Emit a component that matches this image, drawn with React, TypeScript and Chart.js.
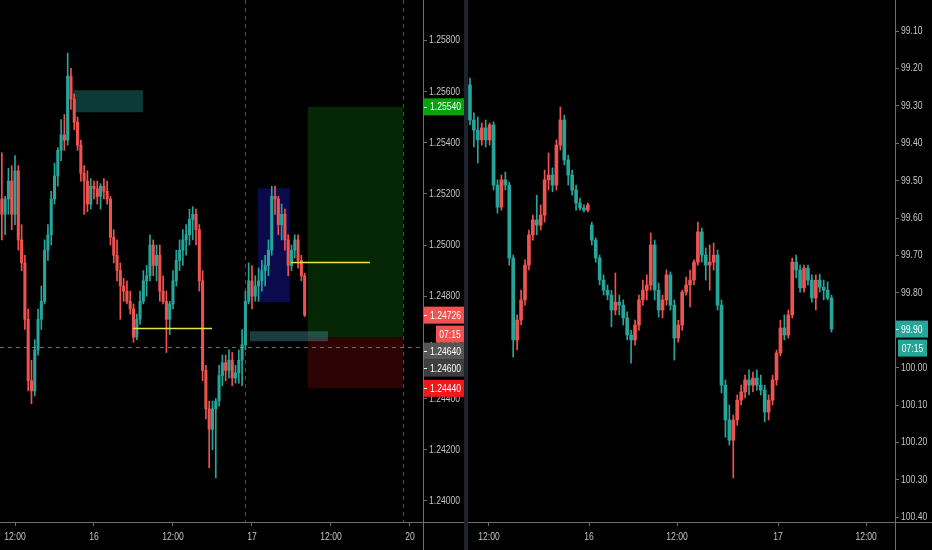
import React, { useEffect, useRef } from 'react';
import { Chart, registerables } from 'chart.js';

Chart.register(...registerables);

const FONT_FAMILY = '"Liberation Sans", Arial, sans-serif';
const FONT = `11px ${FONT_FAMILY}`;
const SQUEEZE = 0.78; // horizontal squeeze to imitate the narrow axis font
const UP = '#26a69a';
const DOWN = '#ef5350';
const AXIS = '#6e6e6e';
const TEXT = '#c4c4c4';

// ---------------- Left pane (30-minute candles, price) ----------------
const leftFirstOpen = 1.2518;
const leftClose = [
  1.2512, 1.2518, 1.2525, 1.2512, 1.2529, 1.2502, 1.2493, 1.2471, 1.2447, 1.2443,
  1.2459, 1.2471, 1.2478, 1.2498, 1.2504, 1.2518, 1.2527, 1.2537, 1.2543, 1.2541,
  1.2566, 1.2557, 1.2548, 1.2539, 1.2528, 1.2525, 1.2516, 1.2523, 1.2522, 1.2519,
  1.2523, 1.2521, 1.2518, 1.2503, 1.2496, 1.2490, 1.2484, 1.2482, 1.2478, 1.2475,
  1.2464, 1.2471, 1.2478, 1.2486, 1.2488, 1.2500, 1.2492, 1.2496, 1.2482, 1.2478,
  1.2471, 1.2477, 1.2486, 1.2494, 1.2498, 1.2502, 1.2504, 1.2510, 1.2512, 1.2506,
  1.2486, 1.2451, 1.2436, 1.2428, 1.2436, 1.2439, 1.2449, 1.2454, 1.2451, 1.2455,
  1.2448, 1.2450, 1.2455, 1.2461, 1.2478, 1.2486, 1.2480, 1.2484, 1.2486, 1.2490,
  1.2492, 1.2498, 1.2519, 1.2518, 1.2508, 1.2512, 1.2502, 1.2492, 1.2498, 1.2502,
  1.2494, 1.2488, 1.24726,
];
const leftHigh = [
  1.2536, 1.2519, 1.2530, 1.2531, 1.2535, 1.2531, 1.2508, 1.2496, 1.2475, 1.2455,
  1.2463, 1.2475, 1.2484, 1.2502, 1.2508, 1.2521, 1.2532, 1.2538, 1.2549, 1.2551,
  1.2575, 1.2569, 1.2559, 1.2550, 1.2541, 1.2531, 1.2529, 1.2526, 1.2525, 1.2525,
  1.2524, 1.2526, 1.2525, 1.2519, 1.2506, 1.2502, 1.2493, 1.2487, 1.2486, 1.2482,
  1.2477, 1.2473, 1.2482, 1.2490, 1.2492, 1.2504, 1.2502, 1.2500, 1.2500, 1.2488,
  1.2482, 1.2478, 1.2490, 1.2498, 1.2502, 1.2506, 1.2508, 1.2514, 1.2515, 1.2514,
  1.2508, 1.2490, 1.2453, 1.2439, 1.2439, 1.2440, 1.2453, 1.2457, 1.2457, 1.2459,
  1.2458, 1.2453, 1.2459, 1.2467, 1.2482, 1.2493, 1.2492, 1.2488, 1.2491, 1.2494,
  1.2496, 1.2502, 1.2523, 1.2523, 1.2519, 1.2516, 1.2514, 1.2504, 1.2500, 1.2504,
  1.2504, 1.2496, 1.2489,
];
const leftLow = [
  1.2502, 1.2504, 1.2512, 1.2506, 1.2508, 1.2498, 1.2490, 1.2467, 1.2443, 1.2438,
  1.2441, 1.2457, 1.2467, 1.2477, 1.2494, 1.2500, 1.2516, 1.2523, 1.2533, 1.2537,
  1.2539, 1.2553, 1.2545, 1.2537, 1.2525, 1.2512, 1.2513, 1.2514, 1.2518, 1.2516,
  1.2514, 1.2518, 1.2516, 1.2500, 1.2493, 1.2486, 1.2471, 1.2478, 1.2477, 1.2473,
  1.2462, 1.2463, 1.2469, 1.2477, 1.2480, 1.2486, 1.2488, 1.2486, 1.2478, 1.2477,
  1.2458, 1.2465, 1.2475, 1.2484, 1.2490, 1.2492, 1.2496, 1.2500, 1.2502, 1.2500,
  1.2482, 1.2447, 1.2432, 1.2413, 1.2420, 1.2409, 1.2437, 1.2445, 1.2447, 1.2448,
  1.2445, 1.2446, 1.2446, 1.2445, 1.2459, 1.2477, 1.2475, 1.2478, 1.2478, 1.2482,
  1.2484, 1.2488, 1.2496, 1.2512, 1.2504, 1.2502, 1.2498, 1.2488, 1.2490, 1.2495,
  1.2491, 1.2486, 1.2472,
];
// candle times in hours counted from the 15th 00:00 (weekend compressed)
const leftStartHour = 10;
const leftStepHours = 0.5;
const leftTimeTicks = [12, 24, 36, 48, 60, 72];
const leftTimeLabels = ['12:00', '16', '12:00', '17', '12:00', '20'];
const leftPriceTicks = [1.24, 1.242, 1.244, 1.246, 1.248, 1.25, 1.252, 1.254, 1.256, 1.258];

// drawings on the left pane (time in hours, price)
const longTarget = 1.2554;
const longEntry = 1.2464;
const longStop = 1.2444;
const crosshairPrice = 1.246;

// ---------------- Right pane (30-minute candles, inverted index) ----------------
const rightFirstOpen = 99.244;
const rightGapIndex = 31;
const rightGapOpen = 99.619;
const rightClose = [
  99.338, 99.365, 99.391, 99.359, 99.391, 99.351, 99.512, 99.571, 99.498, 99.512,
  99.707, 99.926, 99.873, 99.819, 99.726, 99.645, 99.605, 99.619, 99.592, 99.498,
  99.485, 99.512, 99.405, 99.338, 99.445, 99.485, 99.525, 99.560, 99.573, 99.579,
  99.565, 99.659, 99.707, 99.766, 99.793, 99.806, 99.846, 99.825, 99.833, 99.867,
  99.913, 99.926, 99.886, 99.819, 99.793, 99.779, 99.672, 99.793, 99.846, 99.819,
  99.752, 99.833, 99.921, 99.886, 99.798, 99.779, 99.766, 99.718, 99.637, 99.699,
  99.726, 99.718, 99.699, 99.833, 100.047, 100.140, 100.194, 100.140, 100.087, 100.065,
  100.033, 100.047, 100.028, 100.047, 100.060, 100.119, 100.087, 100.033, 99.961, 99.894,
  99.913, 99.859, 99.718, 99.739, 99.787, 99.734, 99.766, 99.814, 99.766, 99.785,
  99.793, 99.814, 99.897,
];
const rightHigh = [
  99.351, 99.410, 99.453, 99.405, 99.410, 99.405, 99.525, 99.587, 99.579, 99.525,
  99.726, 99.972, 99.953, 99.886, 99.833, 99.739, 99.659, 99.645, 99.632, 99.611,
  99.525, 99.530, 99.525, 99.418, 99.458, 99.512, 99.539, 99.579, 99.579, 99.584,
  99.584, 99.672, 99.718, 99.779, 99.806, 99.819, 99.891, 99.859, 99.859, 99.886,
  99.926, 99.988, 99.940, 99.900, 99.833, 99.819, 99.793, 99.819, 99.865, 99.867,
  99.833, 99.846, 99.980, 99.932, 99.900, 99.806, 99.838, 99.779, 99.726, 99.718,
  99.766, 99.793, 99.739, 99.846, 100.068, 100.186, 100.207, 100.295, 100.154, 100.100,
  100.081, 100.073, 100.065, 100.060, 100.073, 100.145, 100.140, 100.100, 100.047, 99.969,
  99.926, 99.921, 99.867, 99.760, 99.798, 99.798, 99.779, 99.825, 99.846, 99.798,
  99.819, 99.819, 99.905,
];
const rightLow = [
  99.226, 99.319, 99.330, 99.346, 99.338, 99.346, 99.343, 99.498, 99.485, 99.477,
  99.504, 99.699, 99.859, 99.793, 99.712, 99.632, 99.592, 99.539, 99.565, 99.472,
  99.426, 99.466, 99.391, 99.303, 99.325, 99.432, 99.472, 99.512, 99.547, 99.565,
  99.560, 99.611, 99.653, 99.699, 99.752, 99.779, 99.793, 99.747, 99.806, 99.819,
  99.851, 99.900, 99.873, 99.806, 99.766, 99.752, 99.640, 99.659, 99.774, 99.806,
  99.739, 99.744, 99.819, 99.873, 99.793, 99.758, 99.739, 99.712, 99.611, 99.627,
  99.680, 99.672, 99.667, 99.686, 99.819, 100.033, 100.100, 100.127, 100.073, 100.047,
  100.020, 100.006, 100.012, 100.006, 100.020, 100.047, 100.073, 100.020, 99.953, 99.873,
  99.859, 99.846, 99.707, 99.699, 99.726, 99.726, 99.726, 99.752, 99.752, 99.750,
  99.766, 99.771, 99.806,
];
// right pane x is the bar index
const rightTimeTicks = [4.84, 30.3, 52.7, 78.4, 100.8];
const rightTimeLabels = ['12:00', '16', '12:00', '17', '12:00'];
const rightPriceTicks = [99.1, 99.2, 99.3, 99.4, 99.5, 99.6, 99.7, 99.8, 99.9, 100.0, 100.1, 100.2, 100.3, 100.4];

const countdownText = '07:15';

// ---------------- types ----------------
type Zone = { x0: number; x1: number; y0: number; y1: number; color: string };
type Level = { x0: number; x1: number; y: number; color: string };
type PriceLabel = { value: number; text: string; bg: string; countdown?: string };

interface PaneSpec {
  times: number[];
  opens: number[];
  highs: number[];
  lows: number[];
  closes: number[];
  xMin: number;
  xMax: number;
  xTicks: number[];
  xLabels: string[];
  yMin: number;
  yMax: number;
  yTicks: number[];
  yDecimals: number;
  reverse: boolean;
  axisWidth: number;
  bodyWidth: number;
  zones: Zone[];
  levels: Level[];
  vLines: number[];
  crosshair: number | null;
  labels: PriceLabel[];
  labelWidth: number;
  labelTextOffset: number;
  countdownOffset: number;
  countdownWidth: number;
}

const leftOpens = leftClose.map((_, i) => (i === 0 ? leftFirstOpen : leftClose[i - 1]));
const rightOpens = rightClose.map((_, i) =>
  i === 0 ? rightFirstOpen : i === rightGapIndex ? rightGapOpen : rightClose[i - 1]
);
const leftLast = leftClose[leftClose.length - 1];
const rightLast = rightClose[rightClose.length - 1];

const leftSpec: PaneSpec = {
  times: leftClose.map((_, i) => leftStartHour + i * leftStepHours),
  opens: leftOpens,
  highs: leftHigh,
  lows: leftLow,
  closes: leftClose,
  xMin: 9.72,
  xMax: 73.98,
  xTicks: leftTimeTicks,
  xLabels: leftTimeLabels,
  yMin: 1.239176,
  yMax: 1.259575,
  yTicks: leftPriceTicks,
  yDecimals: 5,
  reverse: false,
  axisWidth: 41,
  bodyWidth: 2.4,
  zones: [
    { x0: 20.81, x1: 31.44, y0: 1.25605, y1: 1.25519, color: 'rgba(38,166,154,0.35)' },
    { x0: 48.91, x1: 53.77, y0: 1.25222, y1: 1.24777, color: 'rgba(33,33,255,0.3)' },
    { x0: 56.51, x1: 70.94, y0: longTarget, y1: longEntry, color: 'rgba(20,130,20,0.3)' },
    { x0: 56.51, x1: 70.94, y0: longEntry, y1: longStop, color: 'rgba(170,10,10,0.27)' },
    { x0: 47.7, x1: 59.54, y0: 1.24663, y1: 1.24624, color: 'rgba(70,150,160,0.4)' },
  ],
  levels: [
    { x0: 29.92, x1: 41.92, y: 1.24675, color: '#e8e34a' },
    { x0: 53.92, x1: 65.92, y: 1.24933, color: '#e8e34a' },
  ],
  vLines: [46.94, 70.94],
  crosshair: crosshairPrice,
  labels: [
    { value: longTarget, text: longTarget.toFixed(5), bg: '#08a308' },
    { value: leftLast, text: leftLast.toFixed(5), bg: '#ef5350', countdown: countdownText },
    { value: longEntry, text: longEntry.toFixed(5), bg: '#565656' },
    { value: crosshairPrice, text: crosshairPrice.toFixed(5), bg: '#3e3e3e' },
    { value: longStop, text: longStop.toFixed(5), bg: '#f01818' },
  ],
  labelWidth: 41,
  labelTextOffset: 6,
  countdownOffset: 12,
  countdownWidth: 28,
};

const rightSpec: PaneSpec = {
  times: rightClose.map((_, i) => i),
  opens: rightOpens,
  highs: rightHigh,
  lows: rightLow,
  closes: rightClose,
  xMin: -0.5,
  xMax: 108.15,
  xTicks: rightTimeTicks,
  xLabels: rightTimeLabels,
  yMin: 99.0171,
  yMax: 100.4128,
  yTicks: rightPriceTicks,
  yDecimals: 2,
  reverse: true,
  axisWidth: 37,
  bodyWidth: 3,
  zones: [],
  levels: [],
  vLines: [],
  crosshair: null,
  labels: [{ value: rightLast, text: rightLast.toFixed(2), bg: '#26a69a', countdown: countdownText }],
  labelWidth: 32,
  labelTextOffset: 5,
  countdownOffset: 2,
  countdownWidth: 29,
};

function narrowText(ctx: CanvasRenderingContext2D, text: string, x: number, y: number, align: CanvasTextAlign) {
  ctx.save();
  ctx.translate(x, y);
  ctx.scale(SQUEEZE, 1);
  ctx.textAlign = align;
  ctx.textBaseline = 'middle';
  ctx.font = FONT;
  ctx.fillText(text, 0, 0);
  ctx.restore();
}

function overlayPlugin(s: PaneSpec) {
  return {
    id: 'paneOverlay',
    beforeDatasetsDraw(chart: any) {
      const { ctx, chartArea: a, scales } = chart;
      const x = scales.x;
      const y = scales.y;
      ctx.save();
      ctx.beginPath();
      ctx.rect(a.left, a.top, a.right - a.left, a.bottom - a.top);
      ctx.clip();
      for (const z of s.zones) {
        const px0 = x.getPixelForValue(z.x0);
        const px1 = x.getPixelForValue(z.x1);
        const py0 = y.getPixelForValue(z.y0);
        const py1 = y.getPixelForValue(z.y1);
        ctx.fillStyle = z.color;
        ctx.fillRect(Math.min(px0, px1), Math.min(py0, py1), Math.abs(px1 - px0), Math.abs(py1 - py0));
      }
      ctx.setLineDash([4, 4]);
      ctx.strokeStyle = 'rgba(140,140,140,0.55)';
      ctx.lineWidth = 1;
      for (const v of s.vLines) {
        const px = Math.round(x.getPixelForValue(v)) + 0.5;
        ctx.beginPath();
        ctx.moveTo(px, a.top);
        ctx.lineTo(px, a.bottom);
        ctx.stroke();
      }
      ctx.restore();
    },
    afterDatasetsDraw(chart: any) {
      const { ctx, chartArea: a, scales } = chart;
      const x = scales.x;
      const y = scales.y;
      ctx.save();
      ctx.beginPath();
      ctx.rect(a.left, a.top, a.right - a.left, a.bottom - a.top);
      ctx.clip();
      for (const l of s.levels) {
        const py = Math.round(y.getPixelForValue(l.y)) + 0.5;
        ctx.strokeStyle = l.color;
        ctx.lineWidth = 1.3;
        ctx.beginPath();
        ctx.moveTo(x.getPixelForValue(l.x0), py);
        ctx.lineTo(x.getPixelForValue(l.x1), py);
        ctx.stroke();
      }
      if (s.crosshair !== null) {
        const py = Math.round(y.getPixelForValue(s.crosshair)) + 0.5;
        ctx.setLineDash([4, 4]);
        ctx.strokeStyle = 'rgba(150,150,150,0.7)';
        ctx.lineWidth = 1;
        ctx.beginPath();
        ctx.moveTo(a.left, py);
        ctx.lineTo(a.right, py);
        ctx.stroke();
      }
      ctx.restore();
    },
    afterDraw(chart: any) {
      const { ctx, chartArea: a, scales } = chart;
      const x = scales.x;
      const y = scales.y;
      ctx.save();
      ctx.strokeStyle = AXIS;
      ctx.lineWidth = 1;
      const by = Math.round(a.bottom) + 0.5;
      ctx.beginPath();
      ctx.moveTo(0, by);
      ctx.lineTo(chart.width, by);
      ctx.stroke();
      const rx = Math.round(a.right) + 0.5;
      ctx.beginPath();
      ctx.moveTo(rx, 0);
      ctx.lineTo(rx, chart.height);
      ctx.stroke();

      // axis tick labels at the library's tick positions
      ctx.fillStyle = TEXT;
      y.ticks.forEach((t: any) => {
        narrowText(ctx, Number(t.value).toFixed(s.yDecimals), a.right + 6, y.getPixelForValue(t.value), 'left');
      });
      x.ticks.forEach((t: any, i: number) => {
        narrowText(ctx, s.xLabels[i], x.getPixelForValue(t.value), a.bottom + 15, 'center');
      });

      // price label boxes
      const H = 17;
      const left = Math.round(a.right) + 1;
      let prevBottom = -Infinity;
      const items = s.labels
        .map((l) => ({ ...l, py: y.getPixelForValue(l.value) }))
        .sort((p, q) => p.py - q.py);
      for (const it of items) {
        const cy = Math.max(it.py, prevBottom + H / 2);
        ctx.fillStyle = it.bg;
        ctx.fillRect(left, cy - H / 2, s.labelWidth, H);
        ctx.fillStyle = '#ffffff';
        ctx.fillRect(left, Math.round(cy), 3, 1);
        narrowText(ctx, it.text, left + s.labelTextOffset, cy + 0.5, 'left');
        prevBottom = cy + H / 2;
        if (it.countdown) {
          const cy2 = cy + 19;
          ctx.fillStyle = it.bg;
          ctx.fillRect(left + s.countdownOffset, cy2 - H / 2, s.countdownWidth, H);
          ctx.fillStyle = '#ffffff';
          narrowText(ctx, it.countdown, left + s.countdownOffset + s.countdownWidth / 2, cy2 + 0.5, 'center');
          prevBottom = cy2 + H / 2;
        }
      }
      ctx.restore();
    },
  };
}

function makeChart(canvas: HTMLCanvasElement, s: PaneSpec) {
  const colors = s.closes.map((c, i) => (c >= s.opens[i] ? UP : DOWN));
  const bodies = s.times.map((t, i) => ({ x: t, y: [s.opens[i], s.closes[i]] }));
  const wicks = s.times.map((t, i) => ({ x: t, y: [s.lows[i], s.highs[i]] }));
  return new Chart(canvas, {
    type: 'bar',
    data: {
      datasets: [
        { data: wicks as any, backgroundColor: colors, borderWidth: 0, barThickness: 1, grouped: false, order: 2 } as any,
        {
          data: bodies as any,
          backgroundColor: colors,
          borderWidth: 0,
          barThickness: s.bodyWidth,
          grouped: false,
          order: 1,
          minBarLength: 1,
        } as any,
      ],
    },
    options: {
      responsive: false,
      maintainAspectRatio: false,
      animation: false,
      devicePixelRatio: 1,
      events: [],
      layout: { padding: 0 },
      plugins: { legend: { display: false }, tooltip: { enabled: false } },
      scales: {
        x: {
          type: 'linear',
          min: s.xMin,
          max: s.xMax,
          offset: false,
          grid: { display: true, drawOnChartArea: false, drawTicks: true, tickLength: 4, color: AXIS, offset: false },
          border: { display: false },
          ticks: { display: false, autoSkip: false, maxRotation: 0, minRotation: 0 },
          afterBuildTicks: (sc: any) => {
            sc.ticks = s.xTicks.map((v) => ({ value: v }));
          },
          afterFit: (sc: any) => {
            sc.height = 28;
            sc.paddingLeft = 0;
            sc.paddingRight = 0;
          },
        } as any,
        y: {
          type: 'linear',
          position: 'right',
          min: s.yMin,
          max: s.yMax,
          reverse: s.reverse,
          beginAtZero: false,
          grid: { display: true, drawOnChartArea: false, drawTicks: true, tickLength: 4, color: AXIS },
          border: { display: false },
          ticks: { display: false, autoSkip: false },
          afterBuildTicks: (sc: any) => {
            sc.ticks = s.yTicks.map((v) => ({ value: v }));
          },
          afterFit: (sc: any) => {
            sc.width = s.axisWidth;
            sc.paddingTop = 0;
            sc.paddingBottom = 0;
          },
        } as any,
      },
    } as any,
    plugins: [overlayPlugin(s) as any],
  });
}

export default function App() {
  const leftRef = useRef<HTMLCanvasElement>(null);
  const rightRef = useRef<HTMLCanvasElement>(null);

  useEffect(() => {
    const charts: Chart[] = [];
    if (leftRef.current) charts.push(makeChart(leftRef.current, leftSpec));
    if (rightRef.current) charts.push(makeChart(rightRef.current, rightSpec));
    return () => charts.forEach((c) => c.destroy());
  }, []);

  return (
    <div
      style={{
        position: 'fixed',
        left: 0,
        top: 0,
        width: 932,
        height: 550,
        background: '#000',
        overflow: 'hidden',
      }}
    >
      <canvas
        ref={leftRef}
        width={464}
        height={550}
        style={{ position: 'absolute', left: 0, top: 0, width: 464, height: 550 }}
      />
      <div style={{ position: 'absolute', left: 464, top: 0, width: 4, height: 550, background: '#1f2230' }} />
      <canvas
        ref={rightRef}
        width={464}
        height={550}
        style={{ position: 'absolute', left: 468, top: 0, width: 464, height: 550 }}
      />
    </div>
  );
}
